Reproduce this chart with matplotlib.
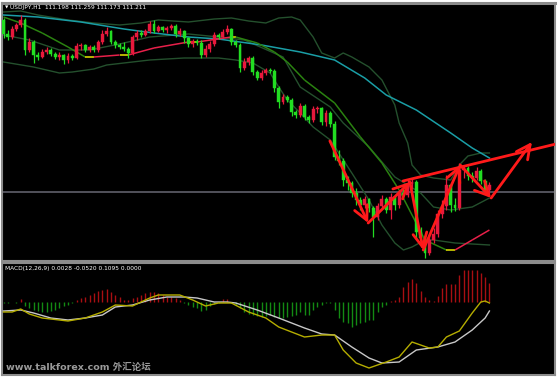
import numpy as np
import matplotlib
matplotlib.use("Agg")
import matplotlib.pyplot as plt
from matplotlib.collections import LineCollection

# ---------------- text ----------------
symbol_text = "USDJPY,H1  111.198 111.259 111.173 111.211"
macd_text = "MACD(12,26,9) 0.0028 -0.0520 0.1095 0.0000"
watermark = "www.talkforex.com 外汇论坛"

# ---------------- candles (H1) ----------------
first_open = 112.100
close = [112.030, 112.015, 112.055, 112.075, 112.100, 111.950, 111.990, 111.925, 111.915, 111.940,
         111.950, 111.930, 111.915, 111.925, 111.900, 111.920, 111.910, 111.970, 111.975, 111.950,
         111.965, 111.950, 111.990, 112.030, 112.045, 111.990, 111.975, 111.965, 111.955, 111.935,
         112.015, 112.035, 112.025, 112.045, 112.080, 112.045, 112.065, 112.050, 112.060, 112.070,
         112.030, 112.045, 112.010, 111.980, 111.995, 111.985, 111.925, 111.955, 111.980, 112.025,
         112.015, 112.040, 112.055, 111.990, 111.975, 111.860, 111.890, 111.910, 111.840, 111.810,
         111.835, 111.850, 111.845, 111.760, 111.690, 111.715, 111.700, 111.640, 111.625, 111.670,
         111.615, 111.600, 111.655, 111.660, 111.590, 111.635, 111.580, 111.415, 111.395, 111.300,
         111.285, 111.235, 111.200, 111.175, 111.205, 111.160, 111.115, 111.170, 111.205, 111.150,
         111.215, 111.175, 111.235, 111.225, 111.280, 111.290, 111.040, 111.010, 110.935, 111.000,
         111.030, 111.130, 111.170, 111.275, 111.175, 111.160, 111.350, 111.360, 111.320, 111.310,
         111.345, 111.295, 111.250, 111.275]
high = [112.110, 112.050, 112.070, 112.085, 112.125, 112.110, 112.010, 112.000, 111.940, 111.955,
        111.965, 111.960, 111.940, 111.940, 111.930, 111.935, 111.930, 111.985, 111.985, 111.980,
        111.975, 111.975, 112.000, 112.050, 112.065, 112.050, 112.000, 111.985, 111.990, 111.965,
        112.025, 112.050, 112.050, 112.055, 112.095, 112.100, 112.075, 112.070, 112.070, 112.080,
        112.080, 112.060, 112.050, 112.015, 112.005, 112.005, 112.000, 111.975, 111.995, 112.040,
        112.035, 112.055, 112.075, 112.060, 112.000, 111.985, 111.910, 111.920, 111.920, 111.850,
        111.850, 111.860, 111.860, 111.855, 111.770, 111.730, 111.725, 111.710, 111.650, 111.685,
        111.680, 111.625, 111.670, 111.670, 111.665, 111.650, 111.645, 111.595, 111.450, 111.410,
        111.320, 111.295, 111.260, 111.215, 111.220, 111.210, 111.170, 111.185, 111.225, 111.215,
        111.235, 111.220, 111.250, 111.270, 111.300, 111.305, 111.300, 111.065, 111.020, 111.025,
        111.060, 111.150, 111.200, 111.325, 111.285, 111.210, 111.385, 111.375, 111.370, 111.340,
        111.365, 111.355, 111.305, 111.290]
low = [112.010, 112.000, 112.005, 112.045, 112.065, 111.925, 111.940, 111.885, 111.900, 111.910,
       111.930, 111.920, 111.905, 111.900, 111.880, 111.885, 111.900, 111.905, 111.950, 111.940,
       111.940, 111.940, 111.940, 111.980, 112.020, 111.980, 111.960, 111.955, 111.945, 111.910,
       111.925, 112.000, 112.015, 112.020, 112.035, 112.035, 112.040, 112.040, 112.035, 112.050,
       112.015, 112.020, 111.985, 111.965, 111.965, 111.975, 111.910, 111.915, 111.940, 111.970,
       112.005, 112.010, 112.030, 111.975, 111.965, 111.840, 111.850, 111.875, 111.825, 111.800,
       111.800, 111.825, 111.835, 111.740, 111.660, 111.680, 111.690, 111.620, 111.610, 111.615,
       111.600, 111.585, 111.590, 111.635, 111.575, 111.570, 111.565, 111.400, 111.375, 111.270,
       111.250, 111.215, 111.175, 111.150, 111.160, 111.140, 111.015, 111.100, 111.155, 111.135,
       111.105, 111.150, 111.160, 111.205, 111.215, 111.255, 111.010, 110.990, 110.910, 110.925,
       110.985, 111.015, 111.110, 111.150, 111.140, 111.145, 111.150, 111.310, 111.300, 111.290,
       111.300, 111.280, 111.235, 111.230]
price_line = 111.240

# ---------------- indicator lines (vertices: bar index, price) ----------------
teal_idx = [0, 8, 18, 28, 35, 43, 50, 60, 69, 77, 84, 89, 96, 104, 109, 113]
teal_val = [112.125, 112.115, 112.090, 112.055, 112.035, 112.015, 112.005, 111.975, 111.940,
            111.900, 111.810, 111.725, 111.650, 111.535, 111.460, 111.410]

ma_idx = [0, 4, 9, 15, 19, 21, 27, 29, 35, 43, 45, 53, 54, 59, 63, 66, 70, 77, 83, 88, 92, 98,
          103, 105, 109, 113]
ma_val = [112.115, 112.085, 112.035, 111.965, 111.915, 111.915, 111.925, 111.925, 111.960,
          111.990, 111.990, 112.015, 112.015, 111.985, 111.940, 111.890, 111.800, 111.685,
          111.515, 111.385, 111.250, 111.000, 110.950, 110.950, 111.000, 111.050]

bb_up_idx = [0, 4, 8, 15, 21, 27, 32, 36, 43, 49, 53, 57, 61, 64, 67, 69, 72, 74, 77, 79, 81,
             85, 88, 91, 92, 94, 95, 97, 100, 104, 106, 108, 111, 113]
bb_up_val = [112.140, 112.145, 112.125, 112.100, 112.085, 112.075, 112.085, 112.100, 112.090,
             112.105, 112.110, 112.095, 112.085, 112.110, 112.115, 112.100, 112.015, 111.935,
             111.910, 111.935, 111.915, 111.865, 111.800, 111.675, 111.585, 111.485, 111.375,
             111.325, 111.310, 111.300, 111.375, 111.420, 111.435, 111.435]

bb_mid_idx = [0, 6, 13, 20, 27, 34, 43, 50, 56, 65, 69, 76, 79, 85, 91, 97, 100, 104, 109, 113]
bb_mid_val = [112.025, 112.000, 111.950, 111.950, 111.980, 112.015, 112.030, 112.015, 112.000,
              111.915, 111.765, 111.665, 111.585, 111.465, 111.315, 111.235, 111.165, 111.150,
              111.165, 111.210]

bb_low_idx = [0, 7, 13, 16, 21, 24, 34, 42, 50, 54, 58, 62, 64, 66, 69, 72, 76, 81, 85, 88, 91,
              93, 95, 98, 100, 105, 113]
bb_low_val = [111.890, 111.865, 111.835, 111.840, 111.855, 111.875, 111.900, 111.910, 111.910,
              111.900, 111.885, 111.835, 111.765, 111.700, 111.635, 111.565, 111.500, 111.335,
              111.200, 111.075, 110.985, 110.950, 110.965, 111.000, 111.000, 110.985, 110.975]

# hand-drawn arrows (bar index, price) and trend line
arrow_idx = [75.9, 84.8, 94.5, 97.6, 106.2, 113.4, 122.9]
arrow_val = [111.495, 111.085, 111.290, 110.950, 111.375, 111.210, 111.490]
trend_idx = [92.9, 130.0]
trend_val = [111.295, 111.488]

# ---------------- MACD ----------------
macd_hist = [-0.001, -0.001, 0.000, -0.001, 0.003, -0.004, -0.006, -0.008, -0.009, -0.010,
             -0.010, -0.009, -0.008, -0.006, -0.004, -0.003, -0.001, 0.002, 0.004, 0.005,
             0.007, 0.009, 0.011, 0.012, 0.013, 0.010, 0.007, 0.005, 0.002, 0.002,
             0.004, 0.005, 0.007, 0.009, 0.010, 0.010, 0.009, 0.007, 0.005, 0.005,
             0.004, 0.002, -0.001, -0.003, -0.005, -0.006, -0.009, -0.008, -0.004, -0.002,
             -0.001, 0.003, 0.003, -0.001, -0.003, -0.006, -0.010, -0.012, -0.013, -0.014,
             -0.015, -0.014, -0.013, -0.015, -0.016, -0.016, -0.015, -0.014, -0.013, -0.010,
             -0.013, -0.013, -0.008, -0.005, -0.003, -0.001, -0.001, -0.008, -0.016, -0.020,
             -0.021, -0.025, -0.023, -0.021, -0.020, -0.018, -0.018, -0.010, -0.005, -0.003,
             0.001, 0.002, 0.005, 0.015, 0.020, 0.023, 0.019, 0.011, 0.005, 0.002,
             0.001, 0.006, 0.014, 0.018, 0.018, 0.018, 0.027, 0.032, 0.032, 0.032,
             0.032, 0.029, 0.025, 0.019]
macd_w_idx = [0, 4, 7, 11, 15, 19, 23, 26, 30, 34, 38, 42, 45, 49, 52, 54, 59, 64, 70, 74, 77,
              81, 85, 88, 92, 96, 101, 105, 109, 112, 113]
macd_w_val = [-0.009, -0.008, -0.011, -0.016, -0.018, -0.016, -0.013, -0.005, -0.003, 0.002,
              0.005, 0.005, 0.004, 0.000, 0.000, -0.001, -0.008, -0.016, -0.026, -0.032,
              -0.033, -0.045, -0.056, -0.061, -0.060, -0.048, -0.045, -0.040, -0.028, -0.016,
              -0.009]
macd_y_idx = [0, 2, 4, 6, 9, 15, 19, 23, 26, 30, 34, 36, 41, 44, 47, 50, 53, 57, 61, 64, 70,
              74, 77, 79, 82, 85, 89, 92, 95, 99, 101, 103, 106, 109, 111, 112, 113]
macd_y_val = [-0.010, -0.010, -0.007, -0.012, -0.016, -0.019, -0.016, -0.010, -0.003, -0.004,
              0.004, 0.007, 0.007, 0.002, -0.004, -0.001, -0.001, -0.010, -0.016, -0.025,
              -0.035, -0.033, -0.033, -0.048, -0.061, -0.066, -0.060, -0.055, -0.040, -0.046,
              -0.045, -0.035, -0.029, -0.011, 0.000, 0.001, -0.001]

# ---------------- colours ----------------
UP = "#e8193c"
DOWN = "#22dd22"
BB = "#24502d"
TEAL = "#1a9ea6"
MA_DOWN = "#2a8210"
MA_UP = "#e8204a"
MA_FLAT = "#e6e600"
ARROW = "#ff1a1a"
BORDER = "#8c8c8c"

W, H = 558, 378
fig = plt.figure(figsize=(W / 100, H / 100), dpi=100, facecolor="white")
ax = fig.add_axes([2 / W, 1 - 261 / H, 553 / W, 258 / H], facecolor="black")
ax2 = fig.add_axes([2 / W, 1 - 375 / H, 553 / W, 112 / H], facecolor="black")

n = len(close)
x = np.arange(n)
opens = np.array([first_open] + close[:-1])
c = np.array(close)
hi = np.array(high)
lo = np.array(low)
cols = [UP if cc >= oo else DOWN for oo, cc in zip(opens, c)]

# price line
ax.axhline(price_line, color="#60606a", lw=1.2, zorder=1)

# indicator lines
ax.plot(bb_up_idx, bb_up_val, color=BB, lw=1.0, zorder=2)
ax.plot(bb_mid_idx, bb_mid_val, color=BB, lw=1.0, zorder=2)
ax.plot(bb_low_idx, bb_low_val, color=BB, lw=1.0, zorder=2)
ax.plot(teal_idx, teal_val, color=TEAL, lw=1.1, zorder=3)

segs = []
seg_cols = []
for k in range(len(ma_idx) - 1):
    segs.append([(ma_idx[k], ma_val[k]), (ma_idx[k + 1], ma_val[k + 1])])
    d = ma_val[k + 1] - ma_val[k]
    seg_cols.append(MA_UP if d > 0 else (MA_DOWN if d < 0 else MA_FLAT))
ax.add_collection(LineCollection(segs, colors=seg_cols, linewidths=1.1, zorder=3))

# candles
ax.vlines(x, lo, hi, colors=cols, lw=0.9, zorder=4)
body_bottom = np.minimum(opens, c)
body_h = np.maximum(np.abs(c - opens), 0.002)
ax.bar(x, body_h, bottom=body_bottom, width=0.66, color=cols, edgecolor=cols, lw=0.3, zorder=5)

# hand-drawn arrows
for k in range(len(arrow_idx) - 1):
    ax.annotate("", xy=(arrow_idx[k + 1], arrow_val[k + 1]), xytext=(arrow_idx[k], arrow_val[k]),
                arrowprops=dict(arrowstyle="->,head_length=1.0,head_width=0.5", color=ARROW,
                                lw=2.0, shrinkA=0, shrinkB=0, mutation_scale=10),
                zorder=6)
ax.plot(trend_idx, trend_val, color=ARROW, lw=2.0, zorder=6, solid_capstyle="round")

ax.set_xlim(-0.35, 128.25)
ax.set_ylim(110.895, 112.185)

ax.text(0.005, 0.984, "▼", color="white", fontsize=3.2, va="center", ha="left",
        transform=ax.transAxes)
ax.text(0.015, 0.984, symbol_text, color="white", fontsize=4.2, va="center", ha="left",
        transform=ax.transAxes)

# MACD panel
hc = ["#a80f12" if v > 0 else "#138a13" for v in macd_hist]
ax2.vlines(x, 0, macd_hist, colors=hc, lw=1.0, zorder=2)
ax2.plot(macd_w_idx, macd_w_val, color="#c8c8c8", lw=1.0, zorder=3)
ax2.plot(macd_y_idx, macd_y_val, color="#b5ad00", lw=1.0, zorder=3)
ax2.set_xlim(-0.35, 128.25)
ax2.set_ylim(-0.073, 0.039)
ax2.text(0.006, 0.955, macd_text, color="white", fontsize=4.2, va="center", ha="left",
         transform=ax2.transAxes)
ax2.text(0.008, 0.075, watermark, color="#9a9a9a", fontsize=6.8, fontweight="bold",
         va="center", ha="left", transform=ax2.transAxes,
         family=["DejaVu Sans", "Noto Sans CJK SC"])

for a in (ax, ax2):
    a.set_xticks([])
    a.set_yticks([])
    for s in a.spines.values():
        s.set_color(BORDER)
        s.set_linewidth(1.5)
ax.spines["top"].set_linewidth(2.2)

fig.savefig("out.png", dpi=100, facecolor="white")
